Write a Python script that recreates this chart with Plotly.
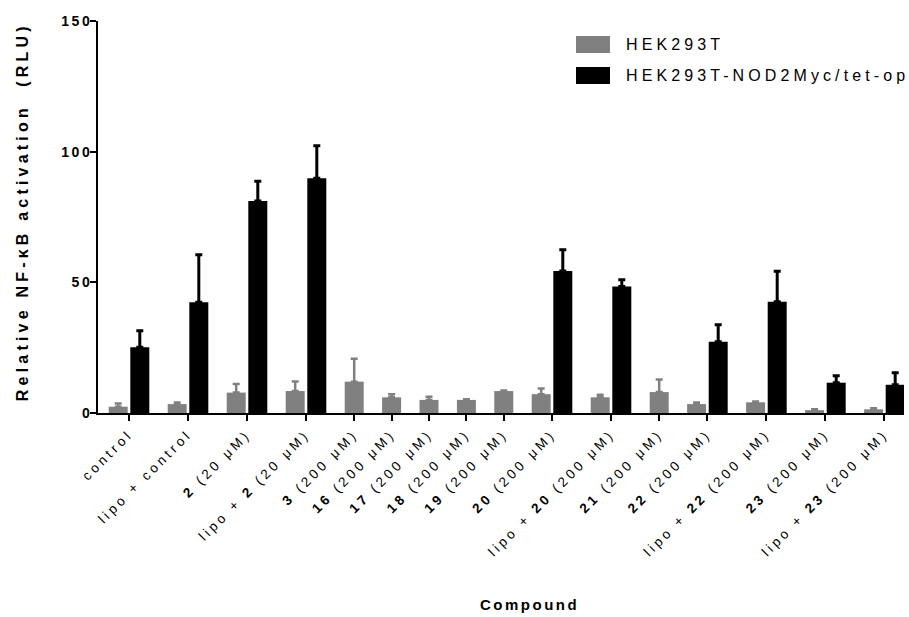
import plotly.graph_objects as go

# Compounds tested (bold compound numbers as in the figure)
categories = [
    "control", "lipo + control",
    "<b>2</b> (20 μM)", "lipo + <b>2</b> (20 μM)",
    "<b>3</b> (200 μM)", "<b>16</b> (200 μM)", "<b>17</b> (200 μM)",
    "<b>18</b> (200 μM)", "<b>19</b> (200 μM)",
    "<b>20</b> (200 μM)", "lipo + <b>20</b> (200 μM)",
    "<b>21</b> (200 μM)",
    "<b>22</b> (200 μM)", "lipo + <b>22</b> (200 μM)",
    "<b>23</b> (200 μM)", "lipo + <b>23</b> (200 μM)",
]

series_names = ["HEK293T", "HEK293T-NOD2Myc/tet-op"]

# Relative NF-κB activation (RLU), mean and upper error
hek_mean = [2.4, 3.4, 7.8, 8.4, 12.0, 6.0, 5.0, 5.0, 8.4, 7.2, 6.0, 8.0, 3.4, 4.1, 1.1, 1.4]
hek_err = [1.2, 0.6, 3.3, 3.7, 8.8, 1.2, 1.2, 0.3, 0.2, 2.2, 1.0, 4.8, 0.6, 0.3, 0.3, 0.4]
nod2_mean = [25.2, 42.4, 81.1, 89.8, None, None, None, None, None,
             54.3, 48.4, None, 27.3, 42.6, 11.6, 10.8]
nod2_err = [6.3, 18.2, 7.6, 12.5, None, None, None, None, None,
            8.2, 2.6, None, 6.5, 11.6, 2.7, 4.6]

y_ticks = [0, 50, 100, 150]

# ---- column layout: paired columns are wider than single columns ----
BAR_W = 19.0
PAIR_GAP = 2.6
GROUP_GAP = 18.4

centers = []
cursor = 0.0
for m in nod2_mean:
    width = (2 * BAR_W + PAIR_GAP if m is not None else BAR_W) + GROUP_GAP
    centers.append(cursor + width / 2)
    cursor += width

half = (BAR_W + PAIR_GAP) / 2
hek_x = [c - half if m is not None else c for c, m in zip(centers, nod2_mean)]
nod_idx = [i for i, m in enumerate(nod2_mean) if m is not None]
nod_x = [centers[i] + half for i in nod_idx]
nod_y = [nod2_mean[i] for i in nod_idx]
nod_e = [nod2_err[i] for i in nod_idx]

GRAY = "#808080"
FONT = "Liberation Sans, Arial, sans-serif"

fig = go.Figure()
fig.add_trace(go.Bar(
    x=hek_x, y=hek_mean, width=BAR_W, name=series_names[0],
    marker=dict(color=GRAY, line=dict(width=0)),
    error_y=dict(type="data", symmetric=False, array=hek_err,
                 arrayminus=[0] * len(hek_err), color=GRAY,
                 thickness=2.5, width=3.5),
    showlegend=False,
))
fig.add_trace(go.Bar(
    x=nod_x, y=nod_y, width=BAR_W, name=series_names[1],
    marker=dict(color="black", line=dict(width=0)),
    error_y=dict(type="data", symmetric=False, array=nod_e,
                 arrayminus=[0] * len(nod_e), color="black",
                 thickness=3, width=3.5),
    showlegend=False,
))

L, R, T, B = 98, 5, 21, 204
W, H = 909, 617
plot_w = W - L - R
plot_h = H - T - B
x_lo = centers[0] - 31
x_hi = x_lo + plot_w


def px_x(p):
    return (p - L) / plot_w


def px_y(p):
    return (H - B - p) / plot_h


fig.update_layout(
    width=W, height=H,
    margin=dict(l=L, r=R, t=T, b=B, pad=0),
    paper_bgcolor="white", plot_bgcolor="white",
    barmode="overlay",
    font=dict(family=FONT, color="black"),
    xaxis=dict(
        range=[x_lo, x_hi], tickmode="array", tickvals=centers, ticktext=categories,
        tickangle=-45, ticks="outside", ticklen=6, tickwidth=2, tickcolor="black",
        showline=True, linecolor="black", linewidth=2, showgrid=False, zeroline=False,
        tickfont=dict(size=13.5, family=FONT, color="black"),
    ),
    yaxis=dict(
        range=[0, 150], tickmode="array", tickvals=y_ticks,
        ticks="outside", ticklen=6, tickwidth=2, tickcolor="black",
        showline=True, linecolor="black", linewidth=2, showgrid=False, zeroline=False,
        tickfont=dict(size=14, family=FONT, color="black", weight="bold"),
    ),
)

# legend swatches and labels
swatch_colors = [GRAY, "black"]
swatch_tops = [36, 67]
for name, col, top in zip(series_names, swatch_colors, swatch_tops):
    fig.add_shape(type="rect", xref="paper", yref="paper",
                  x0=px_x(576), x1=px_x(610), y0=px_y(top + 17), y1=px_y(top),
                  fillcolor=col, line=dict(width=0))
    fig.add_annotation(xref="paper", yref="paper", x=px_x(624), y=px_y(top + 8.5),
                       text=name, showarrow=False, xanchor="left", yanchor="middle",
                       align="left", font=dict(size=16, family=FONT, color="black"))

# axis titles
fig.add_annotation(xref="paper", yref="paper", x=px_x(529), y=0, yshift=-(604 - (H - B)),
                   text="<b>Compound</b>", showarrow=False, xanchor="center",
                   yanchor="middle", font=dict(size=15, family=FONT, color="black"))
fig.add_annotation(xref="paper", yref="paper", x=px_x(22), y=px_y(212),
                   text="<b>Relative NF-κB activation\u00a0\u00a0(RLU)</b>", showarrow=False,
                   textangle=-90, xanchor="center", yanchor="middle",
                   font=dict(size=16, family=FONT, color="black"))

# wide letter spacing of the original typeface; y labels nudged toward the axis
css = (
    ".xtick text{letter-spacing:3.5px}"
    ".ytick text{letter-spacing:2.5px;translate:5px 0}"
    ".annotation[data-index='0'] text,.annotation[data-index='1'] text{letter-spacing:4.1px}"
    ".annotation[data-index='2'] text{letter-spacing:2.5px}"
    ".annotation[data-index='3'] text{letter-spacing:4.2px}"
)
post = ("var s=document.createElement('style');s.textContent=\"" + css +
        "\";document.head.appendChild(s);")

fig.write_html("out.html", post_script=post)
